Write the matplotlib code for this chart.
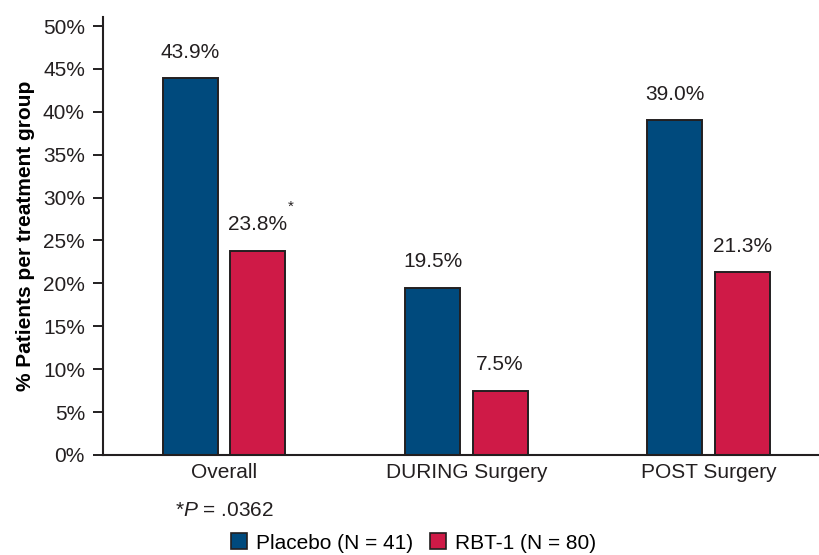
import matplotlib.pyplot as plt
import numpy as np
from matplotlib.patches import Patch

plt.rcParams['font.family'] = ['Liberation Sans', 'DejaVu Sans']
plt.rcParams['mathtext.fontset'] = 'custom'
plt.rcParams['mathtext.rm'] = 'Liberation Sans'
plt.rcParams['mathtext.it'] = 'Liberation Sans:italic'

# data
categories = ['Overall', 'DURING Surgery', 'POST Surgery']
placebo = [43.9, 19.5, 39.0]
rbt1 = [23.8, 7.5, 21.3]
series_names = ['Placebo (N = 41)', 'RBT-1 (N = 80)']
yticks = np.arange(0, 51, 5)

blue = '#004a7d'
red = '#cf1a47'
edge = '#231f20'
fs = 15

fig = plt.figure(figsize=(8.2, 5.55), dpi=100)
ax = fig.add_axes([0.1256, 0.1802, 0.8744, 0.7884])

x = np.arange(len(categories))
w = 0.227
off = 0.139
b1 = ax.bar(x - off, placebo, w, color=blue, edgecolor=edge, linewidth=1.4)
b2 = ax.bar(x + off, rbt1, w, color=red, edgecolor=edge, linewidth=1.4)

for bars, vals in ((b1, placebo), (b2, rbt1)):
    for bar, v in zip(bars, vals):
        ax.annotate('%.1f%%' % v, (bar.get_x() + bar.get_width() / 2, v),
                    xytext=(0, 12), textcoords='offset points',
                    ha='center', va='bottom', fontsize=fs, color=edge)

# significance marker next to the Overall RBT-1 label
ax.annotate('*', (x[0] + off, rbt1[0]), xytext=(24, 27), textcoords='offset points',
            ha='center', va='bottom', fontsize=11, color=edge)

ax.set_xlim(-0.5, 2.46)
ax.set_ylim(0, 51)
ax.set_yticks(yticks)
ax.set_yticklabels(['%d%%' % t for t in yticks])
ax.set_xticks(x)
ax.set_xticklabels(categories)
ax.tick_params(axis='y', length=7, width=1.4, color=edge, labelsize=fs, labelcolor=edge, pad=6)
ax.tick_params(axis='x', length=0, labelsize=fs, labelcolor=edge, pad=6)
ax.set_ylabel('% Patients per treatment group', fontsize=fs, fontweight='bold', labelpad=6)

for s in ('top', 'right'):
    ax.spines[s].set_visible(False)
for s in ('left', 'bottom'):
    ax.spines[s].set_linewidth(1.5)
    ax.spines[s].set_color(edge)

fig.text(0.213, 0.081, r'*$\it{P}$ = .0362', fontsize=fs, ha='left', va='center', color=edge)

handles = [Patch(facecolor=blue, edgecolor=edge, linewidth=1.2),
           Patch(facecolor=red, edgecolor=edge, linewidth=1.2)]
fig.legend(handles, series_names, loc='center', bbox_to_anchor=(0.504, 0.0216), ncol=2,
           frameon=False, fontsize=fs, handlelength=0.8, handleheight=0.8,
           handletextpad=0.4, columnspacing=0.8, borderaxespad=0, borderpad=0)

fig.savefig('out.png', dpi=100)
